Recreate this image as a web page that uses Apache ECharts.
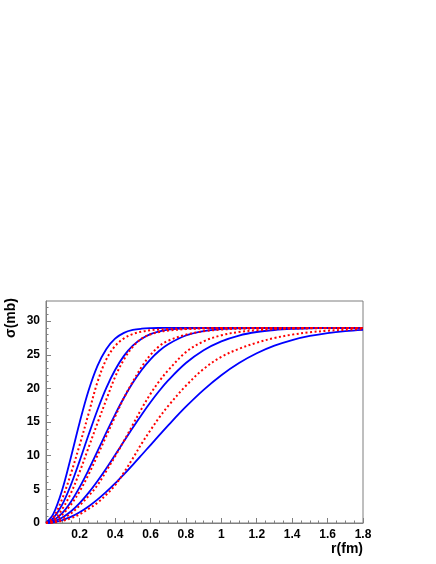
<!DOCTYPE html>
<html>
<head>
<meta charset="utf-8">
<script src="https://cdn.jsdelivr.net/npm/echarts@6/dist/echarts.min.js"></script>
<style>html,body{margin:0;padding:0;background:#fff}#c{width:436px;height:564px}</style>
</head>
<body>
<div id="c"></div>
<script>
// dipole size r (fm)
const r = [0.01, 0.05, 0.1, 0.15, 0.2, 0.25, 0.3, 0.35, 0.4, 0.45, 0.5, 0.55, 0.6, 0.65, 0.7, 0.8, 0.9, 1.0, 1.1, 1.2, 1.3, 1.4, 1.5, 1.6, 1.7, 1.8];

// solid blue curves, sigma (mb)
const blue1 = [0.05, 1.28, 4.80, 9.71, 14.95, 19.65, 23.32, 25.84, 27.40, 28.26, 28.69, 28.88, 28.96, 28.99, 29.0, 29.0, 29.0, 29.0, 29.0, 29.0, 29.0, 29.0, 29.0, 29.0, 29.0, 29.0];
const blue2 = [0.03, 0.69, 2.65, 5.63, 9.24, 13.07, 16.76, 20.04, 22.74, 24.84, 26.36, 27.40, 28.08, 28.49, 28.74, 28.94, 28.99, 29.0, 29.0, 29.0, 29.0, 29.0, 29.0, 29.0, 29.0, 29.0];
const blue3 = [0.02, 0.37, 1.43, 3.13, 5.33, 7.88, 10.63, 13.42, 16.12, 18.62, 20.84, 22.75, 24.33, 25.60, 26.58, 27.87, 28.52, 28.82, 28.94, 28.98, 29.0, 29.0, 29.0, 29.0, 29.0, 29.0];
const blue4 = [0.01, 0.19, 0.77, 1.70, 2.95, 4.47, 6.21, 8.11, 10.11, 12.14, 14.16, 16.10, 17.94, 19.65, 21.20, 23.78, 25.69, 27.01, 27.87, 28.39, 28.69, 28.85, 28.93, 28.97, 28.99, 29.0];
const blue5 = [0.00, 0.10, 0.41, 0.91, 1.60, 2.46, 3.47, 4.62, 5.88, 7.24, 8.65, 10.11, 11.59, 13.06, 14.52, 17.29, 19.80, 21.97, 23.78, 25.23, 26.36, 27.20, 27.80, 28.23, 28.52, 28.71];

// dotted red curves, sigma (mb)
const red1 = [0.02, 0.80, 3.50, 7.30, 11.60, 16.20, 20.90, 24.30, 26.30, 27.45, 28.10, 28.45, 28.65, 28.76, 28.85, 28.93, 28.97, 28.99, 29.0, 29.0, 29.0, 29.0, 29.0, 29.0, 29.0, 29.0];
const red2 = [0.01, 0.40, 2.00, 4.40, 7.60, 11.20, 14.80, 18.30, 21.70, 24.30, 26.20, 27.40, 28.05, 28.40, 28.60, 28.82, 28.92, 28.97, 28.99, 29.0, 29.0, 29.0, 29.0, 29.0, 29.0, 29.0];
const red3 = [0.00, 0.25, 1.20, 2.70, 4.70, 7.20, 10.00, 12.90, 15.80, 18.60, 21.00, 23.20, 25.00, 26.30, 27.10, 28.00, 28.50, 28.75, 28.87, 28.93, 28.96, 28.98, 28.99, 29.0, 29.0, 29.0];
const red4 = [0.00, 0.12, 0.60, 1.40, 2.60, 4.00, 5.60, 7.70, 9.90, 12.20, 14.60, 17.00, 19.20, 21.10, 22.70, 25.40, 27.00, 27.90, 28.40, 28.65, 28.80, 28.88, 28.93, 28.96, 28.98, 29.0];
const red5 = [0.00, 0.06, 0.30, 0.70, 1.30, 2.10, 3.00, 4.20, 5.60, 7.50, 9.60, 11.80, 13.80, 15.70, 17.40, 20.40, 22.90, 24.70, 25.90, 26.80, 27.50, 28.00, 28.35, 28.58, 28.72, 28.82];

// tick labels
const xTickLabels = [0.2, 0.4, 0.6, 0.8, 1, 1.2, 1.4, 1.6, 1.8];
const yTickLabels = [0, 5, 10, 15, 20, 25, 30];

const FONT = '"Liberation Sans", Arial, Helvetica, sans-serif';
const AXIS_COLOR = '#7f7f7f';

const minorX = [];
for (let k = 1; k <= 36; k++) {
  const v = +(k * 0.05).toFixed(2);
  if (Math.abs(v / 0.2 - Math.round(v / 0.2)) > 1e-6) minorX.push(v);
}
const minorY = [];
for (let k = 1; k <= 32; k++) if (k % 5 !== 0) minorY.push(k);

function pairs(ys) { return r.map((x, i) => [x, ys[i]]); }

const blueSets = [blue1, blue2, blue3, blue4, blue5];
const redSets = [red1, red2, red3, red4, red5];

const series = [];
blueSets.forEach((d, i) => series.push({
  name: 'blue' + (i + 1), type: 'line', data: pairs(d), xAxisIndex: 0, yAxisIndex: 0,
  smooth: 0.35, symbol: 'none', showSymbol: false, silent: true,
  lineStyle: { color: '#0000ff', width: 1.8, type: 'solid' }, z: 2
}));
redSets.forEach((d, i) => series.push({
  name: 'red' + (i + 1), type: 'line', data: pairs(d), xAxisIndex: 0, yAxisIndex: 0,
  smooth: 0.35, symbol: 'none', showSymbol: false, silent: true,
  lineStyle: { color: '#ff0000', width: 2, type: [2, 2.5] }, z: 3
}));

const chart = echarts.init(document.getElementById('c'), null, { renderer: 'canvas' });
chart.setOption({
  animation: false,
  backgroundColor: '#ffffff',
  grid: {
    left: 46, right: 73, top: 301, bottom: 41,
    show: true, borderColor: AXIS_COLOR, borderWidth: 1, backgroundColor: 'transparent',
    containLabel: false, outerBoundsMode: 'none'
  },
  xAxis: [
    {
      type: 'value', min: 0.01, max: 1.8, position: 'bottom',
      axisLine: { show: true, onZero: false, lineStyle: { color: AXIS_COLOR, width: 1 } },
      axisTick: { show: true, inside: true, length: 5, customValues: xTickLabels, lineStyle: { color: AXIS_COLOR } },
      axisLabel: {
        show: true, customValues: xTickLabels, margin: 6,
        color: '#000', fontWeight: 'bold', fontSize: 12, fontFamily: FONT,
        formatter: v => String(Number((+v).toFixed(1)))
      },
      splitLine: { show: false }
    },
    {
      type: 'value', min: 0.01, max: 1.8, position: 'bottom',
      axisLine: { show: false, onZero: false },
      axisTick: { show: true, inside: true, length: 2.5, customValues: minorX, lineStyle: { color: AXIS_COLOR } },
      axisLabel: { show: false },
      splitLine: { show: false }
    }
  ],
  yAxis: [
    {
      type: 'value', min: 0, max: 33, position: 'left',
      axisLine: { show: true, onZero: false, lineStyle: { color: AXIS_COLOR, width: 1 } },
      axisTick: { show: true, inside: true, length: 5, customValues: yTickLabels, lineStyle: { color: AXIS_COLOR } },
      axisLabel: {
        show: true, customValues: yTickLabels, margin: 6,
        color: '#000', fontWeight: 'bold', fontSize: 12, fontFamily: FONT
      },
      splitLine: { show: false }
    },
    {
      type: 'value', min: 0, max: 33, position: 'left',
      axisLine: { show: false, onZero: false },
      axisTick: { show: true, inside: true, length: 2.5, customValues: minorY, lineStyle: { color: AXIS_COLOR } },
      axisLabel: { show: false },
      splitLine: { show: false }
    }
  ],
  graphic: [
    {
      type: 'text', x: 11, y: 318, rotation: Math.PI / 2, silent: true,
      style: { text: 'σ(mb)', font: 'bold 14px ' + FONT, fill: '#000', align: 'center', verticalAlign: 'middle' }
    },
    {
      type: 'text', x: 363, y: 549, silent: true,
      style: { text: 'r(fm)', font: 'bold 14px ' + FONT, fill: '#000', align: 'right', verticalAlign: 'middle' }
    }
  ],
  series: series
});
</script>
</body>
</html>
